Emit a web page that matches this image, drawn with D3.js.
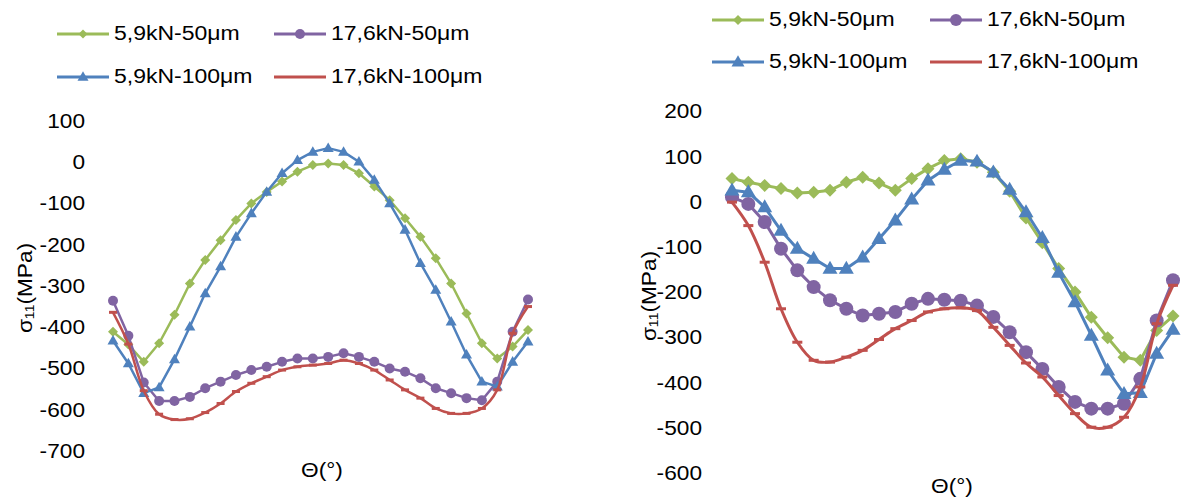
<!DOCTYPE html>
<html>
<head>
<meta charset="utf-8">
<script src="https://cdn.jsdelivr.net/npm/d3@7"></script>
<style>
  html, body { margin: 0; padding: 0; background: #fff; }
  svg { display: block; }
  text { font-family: "Liberation Sans", Arial, sans-serif; fill: #000; }
</style>
</head>
<body>
<svg id="chart" width="1182" height="501"></svg>
<script>
// ---------------- DATA ----------------
const seriesNames = ["5,9kN-50μm", "17,6kN-50μm", "5,9kN-100μm", "17,6kN-100μm"];
const pointIndex = [1,2,3,4,5,6,7,8,9,10,11,12,13,14,15,16,17,18,19,20,21,22,23,24,25,26,27,28];

const leftTicks = [100, 0, -100, -200, -300, -400, -500, -600, -700];
const rightTicks = [200, 100, 0, -100, -200, -300, -400, -500, -600];

// left chart
const left59_50  = [-409,-440,-482,-437,-368,-292,-235,-187,-138,-98,-70,-45,-21,-5,-1,-5,-25,-57,-90,-134,-179,-231,-292,-365,-437,-474,-445,-405];
const left176_50 = [-334,-419,-532,-577,-577,-567,-546,-530,-514,-502,-494,-482,-474,-474,-470,-461,-470,-482,-498,-506,-522,-546,-558,-570,-575,-530,-409,-331];
const left59_100 = [-431,-486,-558,-544,-476,-397,-316,-251,-179,-122,-70,-25,7,27,36,27,3,-41,-98,-162,-243,-308,-385,-465,-530,-542,-482,-433];
const left176_100= [-362,-439,-552,-609,-622,-620,-605,-583,-554,-534,-518,-502,-494,-490,-486,-478,-486,-502,-526,-550,-570,-595,-607,-607,-595,-550,-413,-348];

// right chart
const right59_50  = [52,44,37,30,20,22,26,44,55,42,26,52,74,92,96,88,66,24,-35,-90,-147,-199,-255,-300,-343,-350,-284,-252];
const right176_50 = [11,-4,-44,-103,-151,-188,-217,-236,-251,-247,-243,-225,-214,-216,-218,-229,-254,-288,-332,-369,-409,-442,-457,-457,-446,-391,-262,-173];
const right59_100 = [26,22,-11,-63,-103,-125,-147,-147,-122,-81,-40,6,48,72,92,90,66,28,-22,-79,-156,-221,-295,-372,-424,-422,-335,-282];
const right176_100= [0,-52,-133,-236,-310,-350,-354,-343,-328,-304,-280,-262,-243,-236,-234,-240,-277,-317,-356,-387,-428,-468,-498,-498,-476,-409,-269,-184];

// ---------------- STYLE ----------------
const colors = ["#9BBB59", "#8064A2", "#4F81BD", "#C0504D"];
const markers = ["diamond", "circle", "triangle", "dash"];
const smooth = [false, false, false, true];
const FONT = 21, SX = 1.08;

const svg = d3.select("#chart");

function label(g, x, y, str, size, sx, anchor) {
  return g.append("text")
    .attr("transform", `translate(${x},${y}) scale(${sx},1)`)
    .attr("text-anchor", anchor || "start")
    .attr("dominant-baseline", "central")
    .style("font-size", size + "px")
    .text(str);
}

function drawMarker(g, type, x, y, s, color) {
  if (type === "diamond") {
    g.append("path").attr("d", `M${x},${y - s}L${x + s},${y}L${x},${y + s}L${x - s},${y}Z`).attr("fill", color);
  } else if (type === "circle") {
    g.append("circle").attr("cx", x).attr("cy", y).attr("r", s).attr("fill", color);
  } else if (type === "triangle") {
    const h = s * 1.732;
    g.append("path").attr("d", `M${x},${y - h * 0.6}L${x + s},${y + h * 0.4}L${x - s},${y + h * 0.4}Z`).attr("fill", color);
  } else if (type === "dash") {
    g.append("rect").attr("x", x - s).attr("y", y - 1.5).attr("width", 2 * s).attr("height", 3).attr("fill", color);
  }
}

function drawChart(cfg) {
  const g = svg.append("g");
  const x = d3.scalePoint().domain(pointIndex).range(cfg.xRange);
  const y = d3.scaleLinear().domain(cfg.yDomain).range(cfg.yRange);

  // y axis (labels only)
  const axis = d3.axisLeft(y).tickValues(cfg.ticks).tickSize(0).tickPadding(0).tickFormat(d => String(d));
  const ag = g.append("g").attr("transform", `translate(${cfg.axisX},${cfg.labelShift})`).call(axis);
  ag.select(".domain").remove();
  ag.selectAll("text")
    .attr("x", 0).attr("dy", null)
    .attr("dominant-baseline", "central")
    .attr("transform", `scale(${SX},1)`)
    .style("font-size", FONT + "px")
    .style("font-family", '"Liberation Sans", Arial, sans-serif')
    .attr("fill", "#000");

  // series
  const data = cfg.series;
  data.forEach((vals, si) => {
    const pts = vals.map((v, i) => [x(pointIndex[i]), y(v)]);
    const line = d3.line().curve(smooth[si] ? d3.curveCatmullRom.alpha(0.5) : d3.curveLinear);
    const sg = g.append("g");
    sg.append("path").attr("d", line(pts)).attr("fill", "none")
      .attr("stroke", colors[si]).attr("stroke-width", cfg.lw).attr("stroke-linejoin", "round");
    pts.forEach(p => drawMarker(sg, markers[si], p[0], p[1], cfg.msize[si], colors[si]));
  });

  // y title
  const t = g.append("text")
    .attr("transform", `translate(${cfg.yTitle[0]},${cfg.yTitle[1]}) rotate(-90) scale(${SX},1)`)
    .attr("text-anchor", "middle")
    .attr("dominant-baseline", "central")
    .style("font-size", FONT + "px");
  t.append("tspan").text("σ");
  t.append("tspan").attr("dy", 5).style("font-size", "13px").text("11");
  t.append("tspan").attr("dy", -5).text("(MPa)");

  // x title
  label(g, cfg.xTitle[0], cfg.xTitle[1], "Θ(°)", FONT, SX, "middle");

  // legend
  cfg.legend.forEach((pos, si) => {
    const lg = g.append("g");
    lg.append("line").attr("x1", pos[0]).attr("x2", pos[0] + cfg.legLen)
      .attr("y1", pos[1]).attr("y2", pos[1])
      .attr("stroke", colors[si]).attr("stroke-width", 3);
    if (markers[si] !== "dash")
      drawMarker(lg, markers[si], pos[0] + cfg.legLen / 2, pos[1], cfg.legMsize[si], colors[si]);
    label(lg, pos[0] + cfg.legLen + 5, pos[1], seriesNames[si], 19.5, 1.18, "start");
  });
}

drawChart({
  xRange: [113, 528],
  yDomain: [-700, 100],
  yRange: [451.75, 121.75],
  ticks: leftTicks,
  labelShift: -1.5,
  axisX: 85,
  series: [left59_50, left176_50, left59_100, left176_100],
  lw: 2.5,
  msize: [5, 5, 5.5, 4],
  yTitle: [24, 288],
  xTitle: [322, 470],
  legend: [[57, 34], [274, 34], [57, 77], [274, 77]],
  legLen: 52,
  legMsize: [4.5, 5, 5.5, 4]
});

drawChart({
  xRange: [732, 1173],
  yDomain: [-600, 200],
  yRange: [473.3, 111.7],
  ticks: rightTicks,
  labelShift: -1,
  axisX: 702,
  series: [right59_50, right176_50, right59_100, right176_100],
  lw: 3,
  msize: [6.5, 7, 7.5, 5],
  yTitle: [648, 296],
  xTitle: [952, 486],
  legend: [[712, 20], [930, 20], [712, 62], [930, 62]],
  legLen: 52,
  legMsize: [5, 6, 6.5, 4]
});
</script>
</body>
</html>
